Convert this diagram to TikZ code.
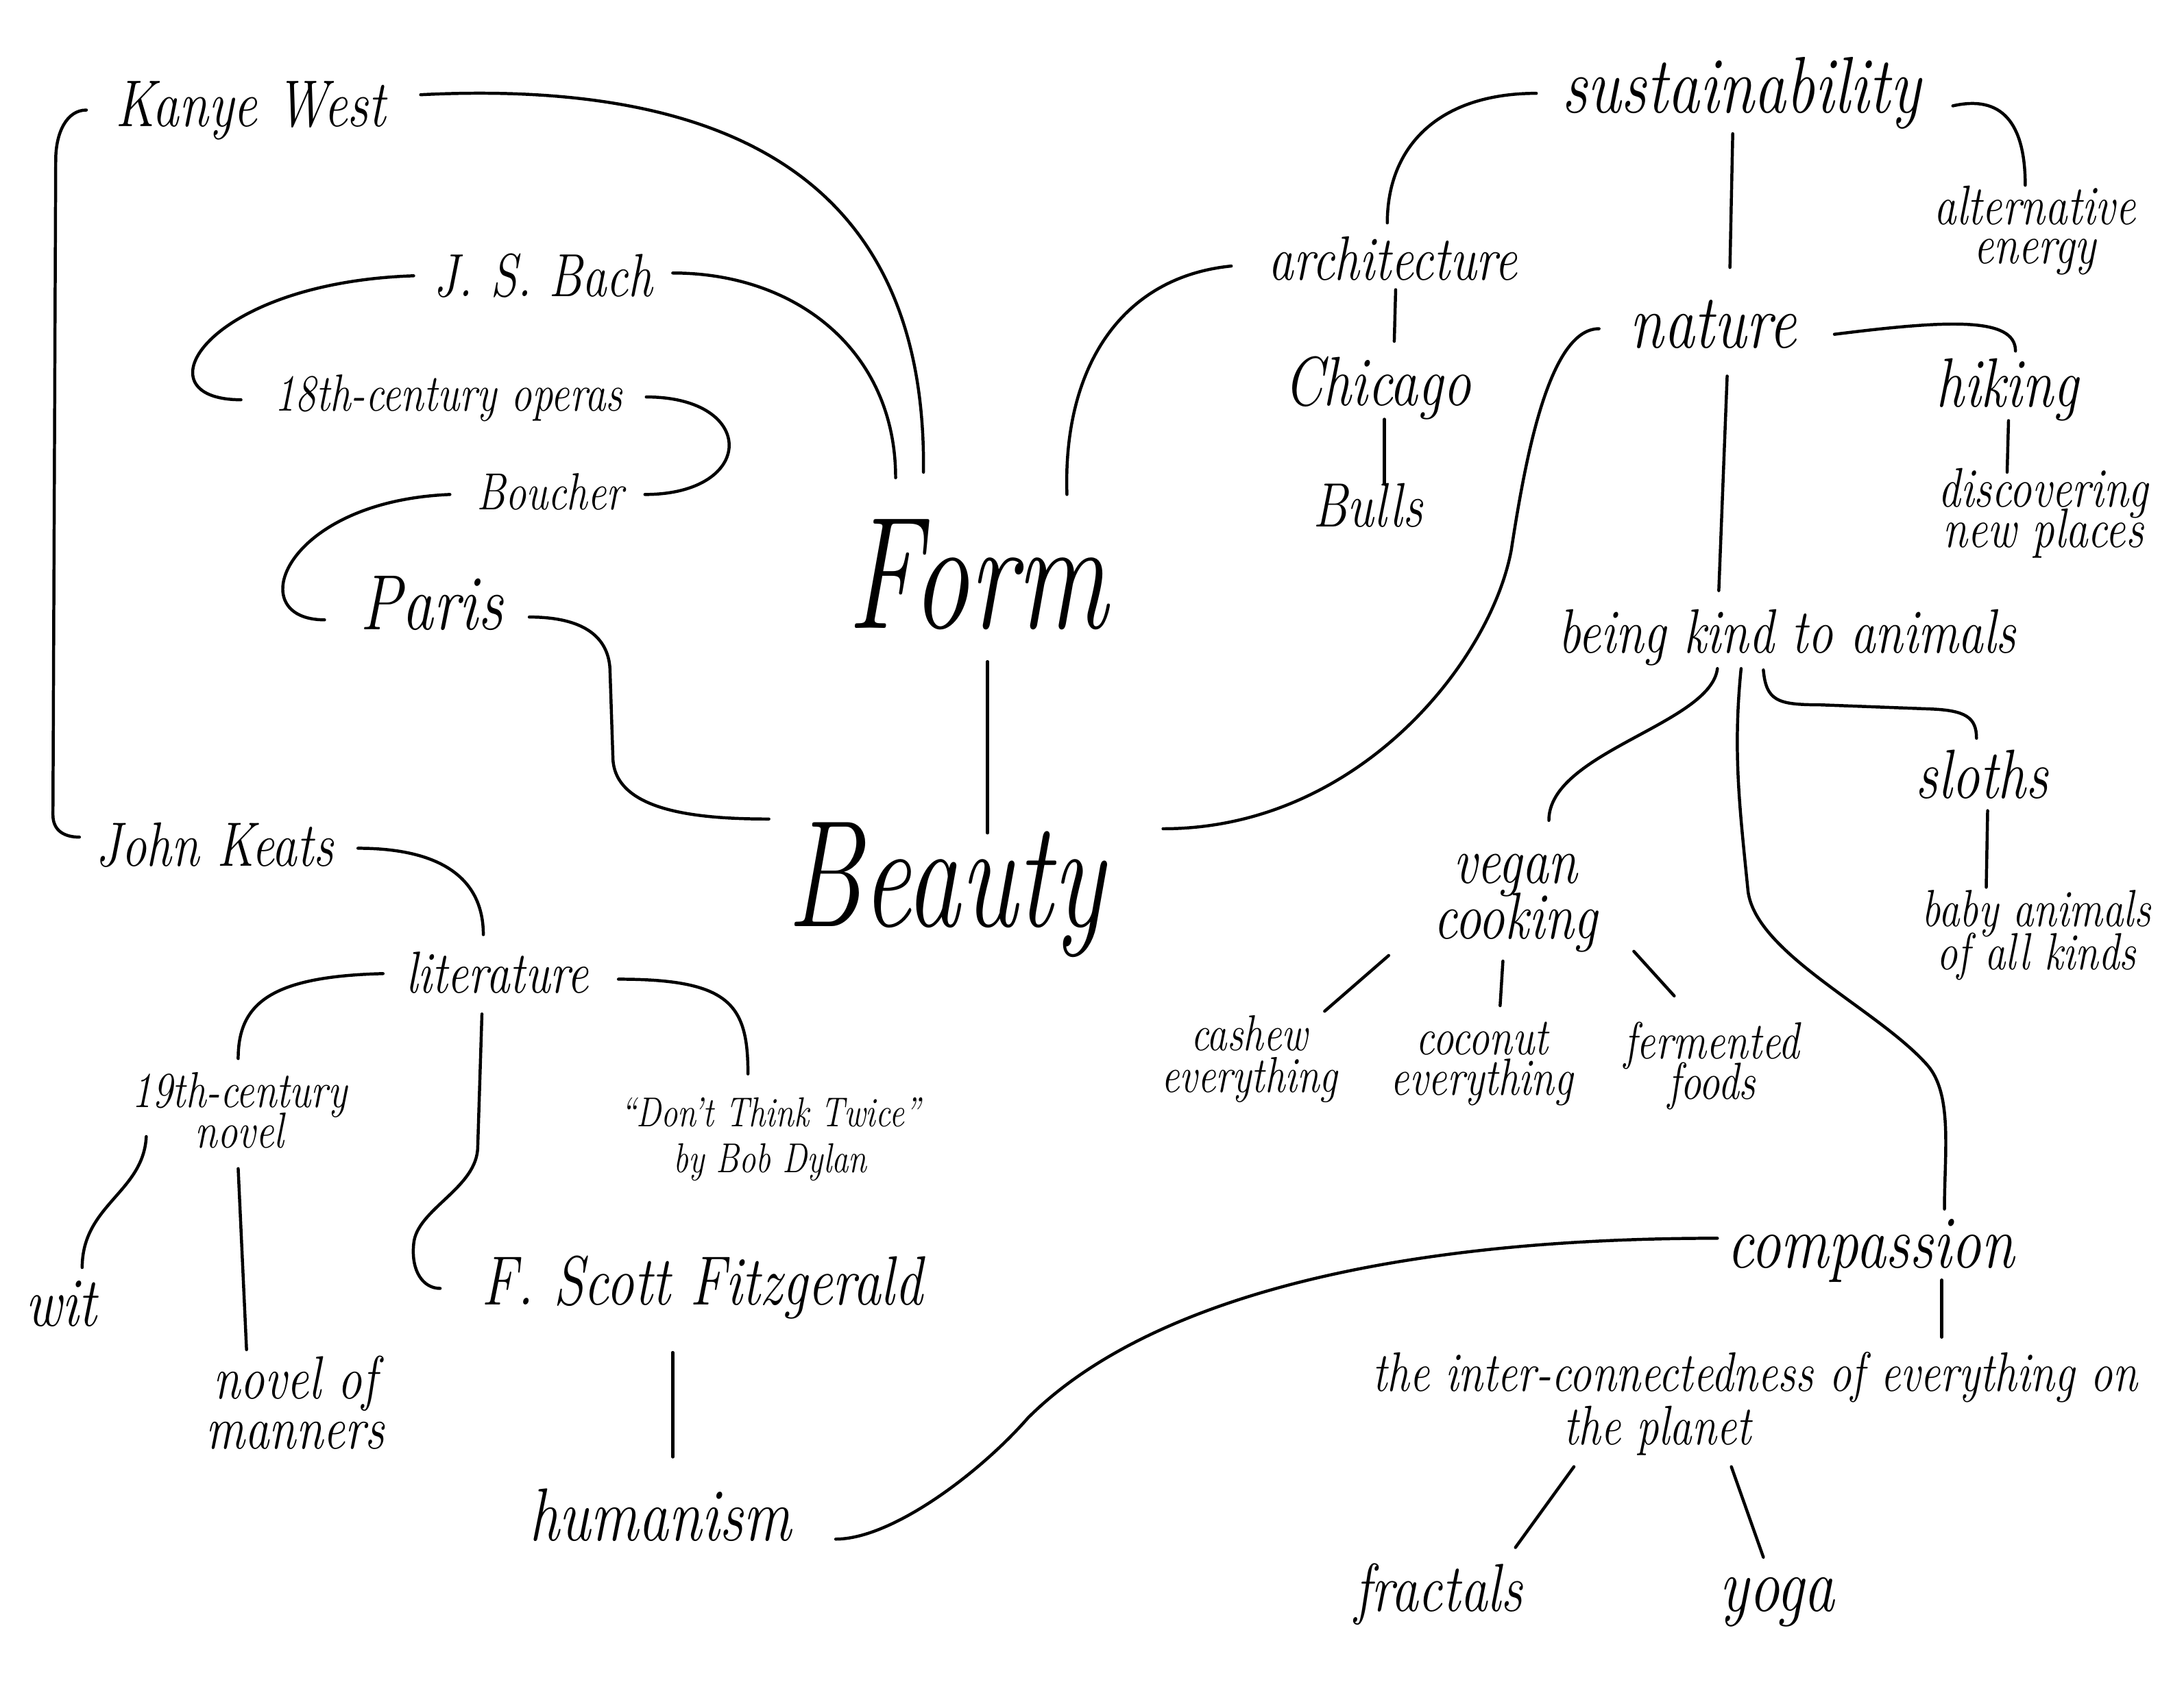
\documentclass[tikz,border=0pt]{standalone}
\usepackage{fontspec}
\usepackage{graphicx}
\usetikzlibrary{calc}

\newcommand{\hs}[2]{\fontsize{#1}{#2}\selectfont\lineskiplimit=-60pt\itshape}
\newcommand{\hw}[1]{\scalebox{1}[1.25]{#1}}
\newcommand{\hbig}[1]{\scalebox{1}[1.4]{#1}}

\tikzset{every picture/.style={line width=2.2pt},
  lbl/.style={anchor=base, inner sep=0pt},
  lbl2/.style={anchor=base, inner sep=0pt, align=center},
  link/.style={line cap=round, line join=round}}

\begin{document}
\begin{tikzpicture}[x=1pt,y=1pt,yscale=-1,xscale=1]
	\useasboundingbox (0,0) rectangle (1568,1211);

	% centre
	\node[lbl, font=\hs{82}{86}] (form) at (702,451) {\hbig{Form}};
	\node[lbl, font=\hs{78}{86}] (beauty) at (679,665) {\hbig{Beauty}};

	% left cluster (two-line labels sit on their last line)
	\node[lbl, font=\hs{38}{40}] (kanye) at (180,91) {\hw{Kanye West}};
	\node[lbl, font=\hs{35}{38}] (bach) at (390,213) {\hw{J. S. Bach}};
	\node[lbl, font=\hs{30}{32}] (operas) at (322,295) {\hw{18th-century operas}};
	\node[lbl, font=\hs{30}{32}] (boucher) at (395,366) {\hw{Boucher}};
	\node[lbl, font=\hs{45}{48}] (paris) at (310,452) {\hw{Paris}};
	\node[lbl, font=\hs{36}{38}] (keats) at (154,622) {\hw{John Keats}};
	\node[lbl, font=\hs{34}{36}] (lit) at (357,713) {\hw{literature}};
	\node[lbl2, font=\hs{29}{29}] (novel19) at (172,824) {\hw{19th-century}\\\hw{novel}};
	\node[lbl2, font=\hs{24}{33}] (dylan) at (553,842) {\hw{“Don’t Think Twice”}\\\hw{by Bob Dylan}};
	\node[lbl, font=\hs{40}{42}] (wit) at (44,952) {\hw{wit}};
	\node[lbl, font=\hs{40}{42}] (fitz) at (504,937) {\hw{F. Scott Fitzgerald}};
	\node[lbl2, font=\hs{35}{36}] (manners) at (212,1040) {\hw{novel of}\\\hw{manners}};
	\node[lbl, font=\hs{43}{45}] (humanism) at (474,1106) {\hw{humanism}};

	% right cluster
	\node[lbl, font=\hs{46}{48}] (sustain) at (1250,81) {\hw{sustainability}};
	\node[lbl2, font=\hs{32}{28}] (altenergy) at (1461,189) {\hw{alternative}\\\hw{energy}};
	\node[lbl, font=\hs{36}{38}] (arch) at (1000,201) {\hw{architecture}};
	\node[lbl, font=\hs{44}{46}] (nature) at (1230,250) {\hw{nature}};
	\node[lbl, font=\hs{40}{42}] (chicago) at (989,291) {\hw{Chicago}};
	\node[lbl, font=\hs{36}{38}] (bulls) at (982,378) {\hw{Bulls}};
	\node[lbl, font=\hs{40}{42}] (hiking) at (1441,292) {\hw{hiking}};
	\node[lbl2, font=\hs{32}{29}] (discover) at (1467,393) {\hw{discovering}\\\hw{new places}};
	\node[lbl, font=\hs{36}{38}] (kind) at (1283,469) {\hw{being kind to animals}};
	\node[lbl, font=\hs{40}{42}] (sloths) at (1423,573) {\hw{sloths}};
	\node[lbl2, font=\hs{30}{31}] (baby) at (1462,696) {\hw{baby animals}\\\hw{of all kinds}};
	\node[lbl2, font=\hs{38}{40}] (vegan) at (1088,674) {\hw{vegan}\\\hw{cooking}};
	\node[lbl2, font=\hs{29}{30}] (cashew) at (897,784) {\hw{cashew}\\\hw{everything}};
	\node[lbl2, font=\hs{30}{29}] (coconut) at (1064,786) {\hw{coconut}\\\hw{everything}};
	\node[lbl2, font=\hs{30}{29}] (fermented) at (1229,789) {\hw{fermented}\\\hw{foods}};
	\node[lbl, font=\hs{43}{45}] (compassion) at (1343,910) {\hw{compassion}};
	\node[lbl2, font=\hs{32}{38}] (inter) at (1260,1037) {\hw{the inter-connectedness of everything on}\\\hw{the planet}\hspace*{140pt}};
	\node[lbl, font=\hs{39}{41}] (fractals) at (1033,1157) {\hw{fractals}};
	\node[lbl, font=\hs{44}{46}] (yoga) at (1276,1157) {\hw{yoga}};

	% left connectors
	\draw[link] (kanye.base) ++(-118,-12) .. controls +(-14,0) and +(0,-20) .. ++(-22,36) -- ++(-2,470) .. controls +(0,12) and +(-10,0) .. ($(keats.base)+(-97,-21)$);
	\draw[link] (kanye.base) ++(122,-23) .. controls +(260,-13) and +(2,-180) .. ($(form.base)+(-39,-112)$);
	\draw[link] (bach.base) ++(93,-17) .. controls +(90,0) and +(0,-90) .. ($(form.base)+(-59,-108)$);
	\draw[link] (bach.base) ++(-93,-15) .. controls +(-150,5) and +(-75,0) .. ($(operas.base)+(-149,-8)$);
	\draw[link] (operas.base) ++(142,-10) .. controls +(80,0) and +(80,0) .. ($(boucher.base)+(68,-11)$);
	\draw[link] (boucher.base) ++(-72,-11) .. controls +(-120,5) and +(-60,0) .. ($(paris.base)+(-77,-7)$);
	\draw[link] (paris.base) ++(70,-9) .. controls +(40,0) and +(0,-25) .. ++(58,40) -- ++(2,60) .. controls +(0,40) and +(-50,0) .. ($(beauty.base)+(-127,-77)$);
	\draw[link] (form.base) ++(7,24) -- ($(beauty.base)+(30,-67)$);
	\draw[link] (keats.base) ++(103,-13) .. controls +(60,0) and +(0,-40) .. ($(lit.base)+(-10,-42)$);
	\draw[link] (lit.base) ++(-82,-14) .. controls +(-80,2) and +(0,-40) .. ($(novel19.base)+(-1,-64)$);
	\draw[link] (lit.base) ++(87,-10) .. controls +(80,0) and +(0,-50) .. ($(dylan.base)+(-16,-71)$);
	\draw[link] (lit.base) ++(-11,15) -- ++(-3,95) .. controls +(0,30) and +(2,-25) .. ++(-46,70) .. controls +(-2,20) and +(-12,0) .. ($(fitz.base)+(-188,-12)$);
	\draw[link] (novel19.base) ++(-67,-8) .. controls +(-2,40) and +(0,-45) .. ($(wit.base)+(15,-42)$);
	\draw[link] (novel19.base) ++(-1,15) -- ($(manners.base)+(-35,-71)$);
	\draw[link] (fitz.base) ++(-21,34) -- ($(humanism.base)+(9,-60)$);

	% right connectors
	\draw[link] (arch.base) ++(-116,-10) .. controls +(-80,8) and +(-3,-90) .. ($(form.base)+(64,-96)$);
	\draw[link] (beauty.base) ++(156,-70) .. controls +(140,0) and +(-15,80) .. ++(250,-200) .. controls +(10,-65) and +(-36,0) .. ($(nature.base)+(-82,-14)$);
	\draw[link] (arch.base) ++(2,7) -- ($(chicago.base)+(12,-46)$);
	\draw[link] (chicago.base) ++(5,10) -- ($(bulls.base)+(12,-31)$);
	\draw[link] (sustain.base) ++(-147,-14) .. controls +(-70,0) and +(0,-55) .. ($(arch.base)+(-4,-41)$);
	\draw[link] (sustain.base) ++(-6,15) -- ($(nature.base)+(12,-58)$);
	\draw[link] (sustain.base) ++(152,-5) .. controls +(35,-8) and +(0,-45) .. ($(altenergy.base)+(-7,-56)$);
	\draw[link] (nature.base) ++(87,-10) .. controls +(80,-10) and +(0,-25) .. ($(hiking.base)+(6,-40)$);
	\draw[link] (hiking.base) ++(1,10) -- ($(discover.base)+(-26,-54)$);
	\draw[link] (nature.base) ++(10,20) -- ($(kind.base)+(-49,-45)$);
	\draw[link] (kind.base) ++(-50,11) .. controls +(-5,40) and +(0,-49) .. ($(vegan.base)+(24,-85)$);
	\draw[link] (kind.base) ++(-33,11) .. controls +(-6,60) and +(-6,-60) .. ++(5,160) .. controls +(6,45) and +(-35,-40) .. ++(129,125) .. controls +(18,21) and +(0,-40) .. ($(compassion.base)+(53,-42)$);
	\draw[link] (kind.base) ++(-17,12) .. controls +(2,22) and +(-30,0) .. ++(40,25) -- ++(80,3) .. controls +(25,1) and +(0,-15) .. ($(sloths.base)+(-4,-43)$);
	\draw[link] (sloths.base) ++(4,9) -- ($(baby.base)+(-36,-59)$);
	\draw[link] (vegan.base) ++(-91,12) -- ($(cashew.base)+(54,-58)$);
	\draw[link] (vegan.base) ++(-9,16) -- ($(coconut.base)+(13,-64)$);
	\draw[link] (vegan.base) ++(85,9) -- ($(fermented.base)+(-27,-74)$);
	\draw[link] (compassion.base) ++(-110,-21) .. controls +(-250,0) and +(80,-80) .. ++(-495,129) .. controls +(-35,40) and +(40,0) .. ($(humanism.base)+(126,-1)$);
	\draw[link] (compassion.base) ++(51,9) -- ($(inter.base)+(134,-77)$);
	\draw[link] (inter.base) ++(-130,16) -- ($(fractals.base)+(55,-46)$);
	\draw[link] (inter.base) ++(-17,16) -- ($(yoga.base)+(-10,-39)$);

\end{tikzpicture}
\end{document}
